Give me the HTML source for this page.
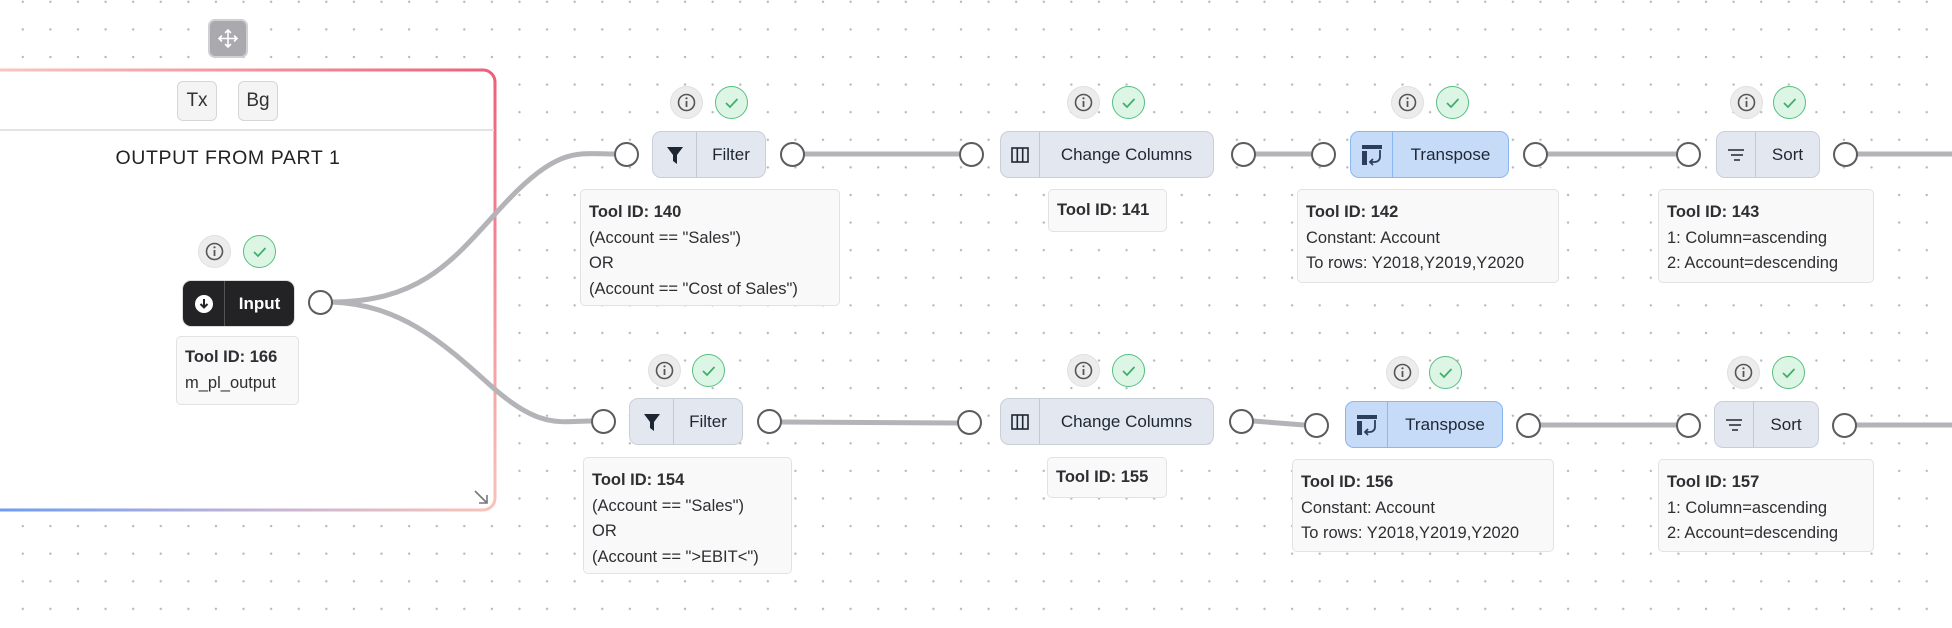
<!DOCTYPE html>
<html><head><meta charset="utf-8"><style>
*{box-sizing:border-box;margin:0;padding:0}
body{width:1952px;height:628px;overflow:hidden;position:relative;background:#fff;font-family:"Liberation Sans",sans-serif;
background-image:radial-gradient(circle,#b8b8bc 1px,transparent 1.4px);background-size:27.6px 27.6px;background-position:9px -12px}
.a{position:absolute}
.btn{position:absolute;width:40px;height:40px;border:1.5px solid #d6d6d6;background:#f4f4f4;border-radius:6px;font-size:19px;color:#333;text-align:center;line-height:38px}
.node{position:absolute;height:47px;border:1.5px solid #c9cfd9;background:#e3e7ef;border-radius:9px;display:flex;align-items:center;color:#1f2633;font-size:17px}
.node .ic{height:100%;border-right:1.5px solid #c3c9d4;display:flex;align-items:center;justify-content:center}
.node .lb{flex:1;text-align:center}
.blue{background:#c6dbf8;border-color:#8ab6f2}
.blue .ic{border-color:#8ab6f2}
.port{position:absolute;width:25px;height:25px;border:2px solid #5b5b60;border-radius:50%;background:#fff}
.info{position:absolute;width:33px;height:33px;border-radius:50%;background:#ececec;border:1.5px solid #e0e0e0}
.chk{position:absolute;width:33px;height:33px;border-radius:50%;background:#dcf5e5;border:1.5px solid #58bf80}
.box{position:absolute;background:#f9f9f9;border:1.5px solid #e2e2e2;border-radius:5px;padding:10px 8px 0 8px;font-size:16.5px;line-height:25.7px;color:#2e2e33;white-space:nowrap}
.box b{font-weight:bold}
</style></head><body>
<div class="a" style="left:0;top:69px;width:495px;height:442px;background:#fff;border-radius:0 11px 11px 0"></div>
<svg class="a" style="left:0;top:0" width="520" height="540">
<defs>
<linearGradient id="gt" gradientUnits="userSpaceOnUse" x1="0" y1="0" x2="496" y2="0"><stop offset="0" stop-color="#f9c6bc"/><stop offset="1" stop-color="#ee5f79"/></linearGradient>
<linearGradient id="gr" gradientUnits="userSpaceOnUse" x1="0" y1="70" x2="0" y2="512"><stop offset="0" stop-color="#ee5f79"/><stop offset="1" stop-color="#f9c3b8"/></linearGradient>
<linearGradient id="gb" gradientUnits="userSpaceOnUse" x1="0" y1="0" x2="496" y2="0"><stop offset="0" stop-color="#6d9cf3"/><stop offset=".55" stop-color="#c7b5d3"/><stop offset="1" stop-color="#f9c3b8"/></linearGradient>
</defs>
<g fill="none" stroke-width="3">
<path d="M-5 70 H483 A12 12 0 0 1 495 82" stroke="url(#gt)"/>
<path d="M495 82 V498 A12 12 0 0 1 483 510" stroke="url(#gr)"/>
<path d="M483 510 H-5" stroke="url(#gb)"/>
</g></svg>
<div class="a" style="left:0;top:129px;width:494px;height:1.5px;background:#e4e4e4"></div>
<div class="a" style="left:208px;top:19px;width:40px;height:39px;border-radius:7px;background:#a9a9ae;border:2px solid #d0d0d4"></div>
<svg class="a" style="left:208px;top:19px" width="40" height="39" viewBox="0 0 40 39"><g stroke="#fff" stroke-width="1.6" fill="none" stroke-linecap="round"><path d="M20 11v17M11.5 19.5h17M17.5 13.5l2.5-2.5 2.5 2.5M17.5 25.5l2.5 2.5 2.5-2.5M13.5 17l-2.5 2.5 2.5 2.5M26.5 17l2.5 2.5-2.5 2.5"/></g></svg>
<div class="btn" style="left:177px;top:81px">Tx</div>
<div class="btn" style="left:238px;top:81px">Bg</div>
<div class="a" style="left:0;top:147px;width:456px;text-align:center;font-size:19.5px;letter-spacing:.6px;color:#222">OUTPUT FROM PART 1</div>
<svg class="a" style="left:472px;top:488px" width="18" height="18"><path d="M3 3l12 12M7 15h8V7" stroke="#777" stroke-width="1.6" fill="none"/></svg>

<svg class="a" style="left:0;top:0" width="1952" height="628">
<g stroke="#b3b3b8" stroke-width="5" fill="none">
<path d="M332 302 C 430 302, 460 250, 510 198 S 580 154, 614 154"/>
<path d="M332 302 C 400 305, 440 340, 490 385 S 560 421, 591 421"/>
<line x1="804" y1="154" x2="959" y2="154"/>
<line x1="1255" y1="154" x2="1311" y2="154"/>
<line x1="1547" y1="154" x2="1676" y2="154"/>
<line x1="1857" y1="154" x2="1952" y2="154"/>
<line x1="781" y1="422" x2="957" y2="423"/>
<path d="M1253 421 L1304 425"/>
<line x1="1540" y1="425" x2="1676" y2="425"/>
<line x1="1856" y1="425" x2="1952" y2="425"/>
</g></svg>

<svg width="0" height="0" style="position:absolute"><defs>
<g id="i"><circle cx="16.5" cy="16.5" r="8" stroke="#555" stroke-width="1.6" fill="none"/><line x1="16.5" y1="15" x2="16.5" y2="21" stroke="#555" stroke-width="1.8"/><circle cx="16.5" cy="12.3" r="1.1" fill="#555"/></g>
<g id="c"><path d="M11 17l4 4 7.5-8" stroke="#3fae6a" stroke-width="1.7" fill="none"/></g>
</defs></svg>

<div class="info" style="left:198px;top:235px"><svg width="33" height="33" style="margin:-1.5px"><use href="#i"/></svg></div>
<div class="chk" style="left:243px;top:235px"><svg width="33" height="33" style="margin:-1.5px"><use href="#c"/></svg></div>
<div class="node" style="left:182px;top:280px;width:113px;height:47px;background:#232326;border-color:#dcdcdc;color:#fff;font-weight:bold">
<div class="ic" style="width:42px;border-color:#555"><svg width="20" height="20"><circle cx="10" cy="10" r="9" fill="#fff"/><path d="M10 5v8M6.5 10l3.5 3.5 3.5-3.5" stroke="#232326" stroke-width="2" fill="none"/></svg></div><div class="lb">Input</div></div>
<div class="port" style="left:308px;top:290px"></div>
<div class="box" style="left:176px;top:336px;width:123px;height:69px;padding-top:8px"><b>Tool ID: 166</b><br>m_pl_output</div>

<div class="info" style="left:670px;top:86px"><svg width="33" height="33" style="margin:-1.5px"><use href="#i"/></svg></div>
<div class="chk" style="left:715px;top:86px"><svg width="33" height="33" style="margin:-1.5px"><use href="#c"/></svg></div>
<div class="port" style="left:614px;top:142px"></div>
<div class="node" style="left:652px;top:131px;width:114px"><div class="ic" style="width:44px"><svg width="18" height="20"><path d="M1 2h16l-6 8v9l-4-3v-6z" fill="#1f2633"/></svg></div><div class="lb">Filter</div></div>
<div class="port" style="left:780px;top:142px"></div>
<div class="box" style="left:580px;top:189px;width:260px;height:117px"><b>Tool ID: 140</b><br>(Account == "Sales")<br>OR<br>(Account == "Cost of Sales")</div>

<div class="info" style="left:1067px;top:86px"><svg width="33" height="33" style="margin:-1.5px"><use href="#i"/></svg></div>
<div class="chk" style="left:1112px;top:86px"><svg width="33" height="33" style="margin:-1.5px"><use href="#c"/></svg></div>
<div class="port" style="left:959px;top:142px"></div>
<div class="node" style="left:1000px;top:131px;width:214px"><div class="ic" style="width:39px"><svg width="18" height="16"><rect x="1" y="1" width="16" height="14" fill="none" stroke="#1f2633" stroke-width="1.6"/><path d="M6.3 1v14M11.7 1v14" stroke="#1f2633" stroke-width="1.6"/></svg></div><div class="lb">Change Columns</div></div>
<div class="port" style="left:1231px;top:142px"></div>
<div class="box" style="left:1048px;top:189px;width:119px;height:43px;padding-top:8px"><b>Tool ID: 141</b></div>

<div class="info" style="left:1391px;top:86px"><svg width="33" height="33" style="margin:-1.5px"><use href="#i"/></svg></div>
<div class="chk" style="left:1436px;top:86px"><svg width="33" height="33" style="margin:-1.5px"><use href="#c"/></svg></div>
<div class="port" style="left:1311px;top:142px"></div>
<div class="node blue" style="left:1350px;top:131px;width:159px"><div class="ic" style="width:42px"><svg width="22" height="22"><rect x="1" y="1" width="20" height="4" fill="#2c3e5c"/><rect x="1" y="7" width="5" height="14" fill="#2c3e5c"/><path d="M19 6v7a5 5 0 0 1-5 5h-4M12 15l-3 3 3 3" stroke="#2c3e5c" stroke-width="1.8" fill="none"/></svg></div><div class="lb">Transpose</div></div>
<div class="port" style="left:1523px;top:142px"></div>
<div class="box" style="left:1297px;top:189px;width:262px;height:94px"><b>Tool ID: 142</b><br>Constant: Account<br>To rows: Y2018,Y2019,Y2020</div>

<div class="info" style="left:1730px;top:86px"><svg width="33" height="33" style="margin:-1.5px"><use href="#i"/></svg></div>
<div class="chk" style="left:1773px;top:86px"><svg width="33" height="33" style="margin:-1.5px"><use href="#c"/></svg></div>
<div class="port" style="left:1676px;top:142px"></div>
<div class="node" style="left:1716px;top:131px;width:104px"><div class="ic" style="width:39px"><svg width="18" height="14"><path d="M1 2h16M4 7h12M7 12h6" stroke="#1f2633" stroke-width="1.6"/></svg></div><div class="lb">Sort</div></div>
<div class="port" style="left:1833px;top:142px"></div>
<div class="box" style="left:1658px;top:189px;width:216px;height:94px"><b>Tool ID: 143</b><br>1: Column=ascending<br>2: Account=descending</div>

<div class="info" style="left:648px;top:354px"><svg width="33" height="33" style="margin:-1.5px"><use href="#i"/></svg></div>
<div class="chk" style="left:692px;top:354px"><svg width="33" height="33" style="margin:-1.5px"><use href="#c"/></svg></div>
<div class="port" style="left:591px;top:409px"></div>
<div class="node" style="left:629px;top:398px;width:114px"><div class="ic" style="width:44px"><svg width="18" height="20"><path d="M1 2h16l-6 8v9l-4-3v-6z" fill="#1f2633"/></svg></div><div class="lb">Filter</div></div>
<div class="port" style="left:757px;top:409px"></div>
<div class="box" style="left:583px;top:457px;width:209px;height:117px"><b>Tool ID: 154</b><br>(Account == "Sales")<br>OR<br>(Account == "&gt;EBIT&lt;")</div>

<div class="info" style="left:1067px;top:354px"><svg width="33" height="33" style="margin:-1.5px"><use href="#i"/></svg></div>
<div class="chk" style="left:1112px;top:354px"><svg width="33" height="33" style="margin:-1.5px"><use href="#c"/></svg></div>
<div class="port" style="left:957px;top:410px"></div>
<div class="node" style="left:1000px;top:398px;width:214px"><div class="ic" style="width:39px"><svg width="18" height="16"><rect x="1" y="1" width="16" height="14" fill="none" stroke="#1f2633" stroke-width="1.6"/><path d="M6.3 1v14M11.7 1v14" stroke="#1f2633" stroke-width="1.6"/></svg></div><div class="lb">Change Columns</div></div>
<div class="port" style="left:1229px;top:409px"></div>
<div class="box" style="left:1047px;top:457px;width:120px;height:41px;padding-top:7px"><b>Tool ID: 155</b></div>

<div class="info" style="left:1386px;top:356px"><svg width="33" height="33" style="margin:-1.5px"><use href="#i"/></svg></div>
<div class="chk" style="left:1429px;top:356px"><svg width="33" height="33" style="margin:-1.5px"><use href="#c"/></svg></div>
<div class="port" style="left:1304px;top:413px"></div>
<div class="node blue" style="left:1345px;top:401px;width:158px"><div class="ic" style="width:42px"><svg width="22" height="22"><rect x="1" y="1" width="20" height="4" fill="#2c3e5c"/><rect x="1" y="7" width="5" height="14" fill="#2c3e5c"/><path d="M19 6v7a5 5 0 0 1-5 5h-4M12 15l-3 3 3 3" stroke="#2c3e5c" stroke-width="1.8" fill="none"/></svg></div><div class="lb">Transpose</div></div>
<div class="port" style="left:1516px;top:413px"></div>
<div class="box" style="left:1292px;top:459px;width:262px;height:93px"><b>Tool ID: 156</b><br>Constant: Account<br>To rows: Y2018,Y2019,Y2020</div>

<div class="info" style="left:1727px;top:356px"><svg width="33" height="33" style="margin:-1.5px"><use href="#i"/></svg></div>
<div class="chk" style="left:1772px;top:356px"><svg width="33" height="33" style="margin:-1.5px"><use href="#c"/></svg></div>
<div class="port" style="left:1676px;top:413px"></div>
<div class="node" style="left:1714px;top:401px;width:105px"><div class="ic" style="width:39px"><svg width="18" height="14"><path d="M1 2h16M4 7h12M7 12h6" stroke="#1f2633" stroke-width="1.6"/></svg></div><div class="lb">Sort</div></div>
<div class="port" style="left:1832px;top:413px"></div>
<div class="box" style="left:1658px;top:459px;width:216px;height:93px"><b>Tool ID: 157</b><br>1: Column=ascending<br>2: Account=descending</div>
</body></html>
